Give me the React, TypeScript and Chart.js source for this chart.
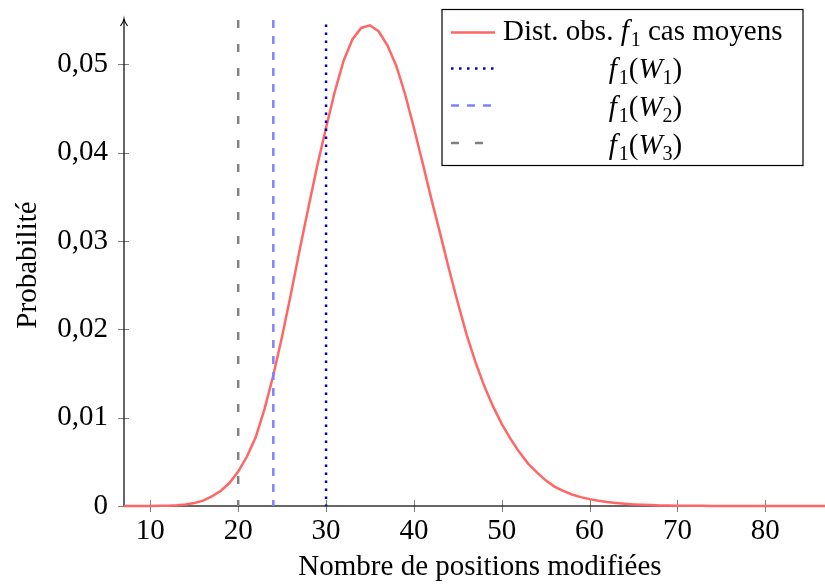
import React, { useEffect, useRef } from 'react';
import { Chart, registerables } from 'chart.js';

Chart.register(...registerables);

// ---- Data ----
const positions = [
  7, 8, 9, 10, 11, 12, 13, 14, 15, 16, 17, 18, 19, 20, 21, 22, 23, 24, 25, 26,
  27, 28, 29, 30, 31, 32, 33, 34, 35, 36, 37, 38, 39, 40, 41, 42, 43, 44, 45, 46,
  47, 48, 49, 50, 51, 52, 53, 54, 55, 56, 57, 58, 59, 60, 61, 62, 63, 64, 65, 66,
  67, 68, 69, 70, 71, 72, 73, 74, 75, 76, 77, 78, 79, 80, 81, 82, 83, 84, 85, 86, 87,
];
const probabilities = [
  0, 0, 0.00001, 0.00001, 0.00002, 0.00004, 0.00008, 0.00016, 0.00033, 0.0006,
  0.0011, 0.0017, 0.0026, 0.0039, 0.0056, 0.0078, 0.011, 0.0148, 0.0192, 0.024,
  0.029, 0.0338, 0.0385, 0.0428, 0.0469, 0.0504, 0.0528, 0.0541, 0.0544, 0.0537,
  0.0521, 0.0498, 0.0466, 0.0428, 0.0388, 0.0347, 0.0308, 0.0268, 0.023, 0.0194,
  0.0163, 0.0136, 0.0113, 0.0093, 0.0076, 0.0061, 0.0048, 0.0038, 0.0029, 0.0022,
  0.0017, 0.0013, 0.001, 0.00078, 0.0006, 0.00045, 0.00034, 0.00025, 0.00018, 0.00013,
  0.0001, 0.00007, 0.00005, 0.00004, 0.00003, 0.00002, 0.00002, 0.00001, 0.00001, 0.00001,
  0.00001, 0, 0, 0, 0, 0, 0, 0, 0, 0, 0,
];
const thresholdW1 = 30;
const thresholdW2 = 24;
const thresholdW3 = 20;
const thresholdTops = [0.0545, 0.055, 0.055];
const xRange = [7, 86.8];
const yRange = [0, 0.055];
const xTickStep = 10;
const yTickStep = 0.01;
const xTitle = 'Nombre de positions modifiées';
const yTitle = 'Probabilité';

type Part = { t: string; s: 'n' | 'i' | 'sub' };
const legendMain: Part[] = [
  { t: 'Dist. obs. ', s: 'n' },
  { t: 'f', s: 'i' },
  { t: '1', s: 'sub' },
  { t: ' cas moyens', s: 'n' },
];
const legendW = (k: string): Part[] => [
  { t: 'f', s: 'i' },
  { t: '1', s: 'sub' },
  { t: '(', s: 'n' },
  { t: 'W', s: 'i' },
  { t: k, s: 'sub' },
  { t: ')', s: 'n' },
];
const legendRows: Part[][] = [legendMain, legendW('1'), legendW('2'), legendW('3')];

// ---- Styles ----
const FONT = '"Liberation Serif", "Times New Roman", serif';
const RED = 'rgb(255,102,102)';
const DARKBLUE = 'rgb(0,0,191)';
const LIGHTBLUE = 'rgb(128,128,255)';
const GRAY = 'rgb(128,128,128)';
const DOT = [2.5, 5.5];
const DASH = [8, 8];
const LOOSE = [8, 16];

function fontFor(s: Part['s']) {
  if (s === 'i') return `italic 29px ${FONT}`;
  if (s === 'sub') return `20px ${FONT}`;
  return `29px ${FONT}`;
}

function drawRich(ctx: CanvasRenderingContext2D, parts: Part[], x: number, baseline: number, align: 'left' | 'center') {
  ctx.textAlign = 'left';
  ctx.textBaseline = 'alphabetic';
  const widths = parts.map((p) => {
    ctx.font = fontFor(p.s);
    return ctx.measureText(p.t).width + (p.s === 'i' && p.t === 'f' ? 2 : 0);
  });
  const total = widths.reduce((a, b) => a + b, 0);
  let cx = align === 'center' ? x - total / 2 : x;
  parts.forEach((p, i) => {
    ctx.font = fontFor(p.s);
    ctx.fillText(p.t, cx, baseline + (p.s === 'sub' ? 6 : 0));
    cx += widths[i];
  });
}

const decorPlugin = {
  id: 'decor',
  beforeDatasetsDraw(chart: any) {
    const ctx: CanvasRenderingContext2D = chart.ctx;
    const { left, top, bottom } = chart.chartArea;
    const xs = chart.scales.x;
    const ys = chart.scales.y;
    ctx.save();
    // bottom axis line
    ctx.strokeStyle = 'rgba(0,0,0,0.6)';
    ctx.lineWidth = 2;
    ctx.beginPath();
    ctx.moveTo(left, bottom);
    ctx.lineTo(chart.width, bottom);
    ctx.stroke();
    // tick marks
    ctx.strokeStyle = 'rgba(0,0,0,0.5)';
    ctx.lineWidth = 1;
    ctx.beginPath();
    xs.ticks.forEach((t: any) => {
      const p = Math.round(xs.getPixelForValue(t.value)) + 0.5;
      ctx.moveTo(p, bottom - 6);
      ctx.lineTo(p, bottom + 6);
    });
    ys.ticks.forEach((t: any) => {
      const p = Math.round(ys.getPixelForValue(t.value)) + 0.5;
      ctx.moveTo(left - 6, p);
      ctx.lineTo(left + 5, p);
    });
    ctx.stroke();
    // left axis with arrow
    ctx.strokeStyle = '#000';
    ctx.lineWidth = 1.2;
    ctx.beginPath();
    ctx.moveTo(left, bottom);
    ctx.lineTo(left, top - 1);
    ctx.stroke();
    ctx.beginPath();
    ctx.moveTo(left - 3.5, top + 6);
    ctx.quadraticCurveTo(left - 0.5, top + 2, left, top - 1);
    ctx.quadraticCurveTo(left + 0.5, top + 2, left + 3.5, top + 6);
    ctx.stroke();
    ctx.restore();
  },
  afterDraw(chart: any) {
    const ctx: CanvasRenderingContext2D = chart.ctx;
    const { top, bottom } = chart.chartArea;
    ctx.save();
    ctx.fillStyle = '#000';
    // axis titles
    ctx.font = `29px ${FONT}`;
    ctx.textAlign = 'center';
    ctx.textBaseline = 'alphabetic';
    ctx.fillText(xTitle, 480, 575);
    ctx.save();
    ctx.translate(36, (top + bottom) / 2 + 2);
    ctx.rotate(-Math.PI / 2);
    ctx.fillText(yTitle, 0, 0);
    ctx.restore();

    // legend box
    const bx = 442, by = 9.5, bw = 361, bh = 156;
    ctx.fillStyle = '#fff';
    ctx.fillRect(bx, by, bw, bh);
    ctx.strokeStyle = '#000';
    ctx.lineWidth = 1.2;
    ctx.strokeRect(bx, by, bw, bh);

    const sampleY = [32.5, 68.5, 105.5, 143];
    const baseY = [40, 78, 116, 154];
    const styles = [
      { c: RED, d: [] as number[], x2: 495 },
      { c: DARKBLUE, d: DOT, x2: 495 },
      { c: LIGHTBLUE, d: DASH, x2: 491 },
      { c: GRAY, d: LOOSE, x2: 483 },
    ];
    styles.forEach((st, i) => {
      ctx.strokeStyle = st.c;
      ctx.lineWidth = 2.5;
      ctx.setLineDash(st.d);
      ctx.beginPath();
      ctx.moveTo(451, sampleY[i]);
      ctx.lineTo(st.x2, sampleY[i]);
      ctx.stroke();
    });
    ctx.setLineDash([]);
    ctx.fillStyle = '#000';
    legendRows.forEach((row, i) => {
      if (i === 0) drawRich(ctx, row, 503, baseY[i], 'left');
      else drawRich(ctx, row, 645.5, baseY[i], 'center');
    });
    ctx.restore();
  },
};

function vline(x: number, top: number) {
  return [
    { x, y: top },
    { x, y: 0 },
  ];
}

function zeroPad(s: any) {
  s.paddingTop = 0;
  s.paddingBottom = 0;
  s.paddingLeft = 0;
  s.paddingRight = 0;
}

export default function App() {
  const ref = useRef<HTMLCanvasElement | null>(null);
  useEffect(() => {
    if (!ref.current) return;
    const curve = positions.map((x, i) => ({ x, y: probabilities[i] }));
    const chart = new Chart(ref.current, {
      type: 'line',
      data: {
        datasets: [
          {
            label: 'W3',
            data: vline(thresholdW3, thresholdTops[2]),
            borderColor: GRAY,
            borderWidth: 2.5,
            borderDash: LOOSE,
            pointRadius: 0,
            clip: false as any,
          },
          {
            label: 'W2',
            data: vline(thresholdW2, thresholdTops[1]),
            borderColor: LIGHTBLUE,
            borderWidth: 2.5,
            borderDash: DASH,
            pointRadius: 0,
            clip: false as any,
          },
          {
            label: 'W1',
            data: vline(thresholdW1, thresholdTops[0]),
            borderColor: DARKBLUE,
            borderWidth: 2.5,
            borderDash: DOT,
            pointRadius: 0,
            clip: false as any,
          },
          {
            label: 'Dist',
            data: curve,
            borderColor: RED,
            borderWidth: 2.5,
            pointRadius: 0,
            tension: 0,
            clip: false as any,
          },
        ],
      },
      options: {
        responsive: false,
        animation: false,
        layout: { padding: { top: 20, left: 0, right: 0, bottom: 0 } },
        plugins: { legend: { display: false }, tooltip: { enabled: false } },
        scales: {
          x: {
            type: 'linear',
            min: xRange[0],
            max: xRange[1],
            grid: { display: false, drawTicks: false },
            border: { display: false },
            afterFit: (s: any) => {
              s.height = 79;
              zeroPad(s);
            },
            ticks: {
              stepSize: xTickStep,
              includeBounds: false,
              padding: 8,
              color: '#000',
              font: { family: FONT, size: 29 },
              maxRotation: 0,
              autoSkip: false,
            },
          },
          y: {
            type: 'linear',
            min: yRange[0],
            max: yRange[1],
            grid: { display: false, drawTicks: false },
            border: { display: false },
            afterFit: (s: any) => {
              s.width = 124;
              zeroPad(s);
            },
            ticks: {
              stepSize: yTickStep,
              includeBounds: false,
              padding: 16,
              color: '#000',
              font: { family: FONT, size: 29 },
              callback: (v: any) => (Number(v) === 0 ? '0' : Number(v).toFixed(2).replace('.', ',')),
            },
          },
        },
      },
      plugins: [decorPlugin],
    });
    return () => chart.destroy();
  }, []);
  return (
    <div style={{ position: 'fixed', left: 0, top: 0, width: 825, height: 585, overflow: 'hidden', background: '#fff' }}>
      <canvas ref={ref} width={825} height={585} style={{ display: 'block' }} />
    </div>
  );
}
